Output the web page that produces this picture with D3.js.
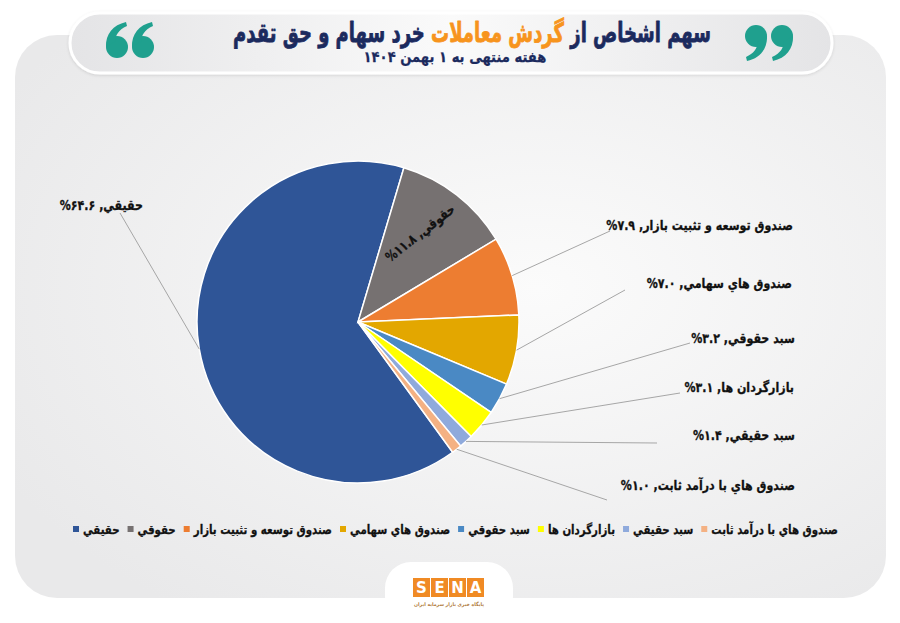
<!DOCTYPE html>
<html>
<head>
<meta charset="utf-8">
<script src="https://cdn.jsdelivr.net/npm/d3@7"></script>
<style>
  body { margin: 0; background: #ffffff; }
  svg text { font-family: "DejaVu Sans", sans-serif; font-weight: bold; }
</style>
</head>
<body>
<div id="chart"></div>
<script>
// chart data
const categories = ["حقيقي", "حقوقي", "صندوق توسعه و تثبيت بازار", "صندوق هاي سهامي",
  "سبد حقوقي", "بازارگردان ها", "سبد حقيقي", "صندوق هاي با درآمد ثابت"];
const shares = [64.6, 11.8, 7.9, 7.0, 3.2, 3.1, 1.4, 1.0];
const colors = ["#2F5597", "#767171", "#ED7D31", "#E3A700", "#4A89C4", "#FFFF00", "#8FAADC", "#F4B183"];
const titleParts = ["سهم اشخاص از ", "گردش معاملات", " خرد سهام و حق تقدم"];
const subtitle = "هفته منتهی به ۱ بهمن ۱۴۰۴";

// label anchors: right edge of text, baseline, and end of leader line
const labelLayout = [
  { x: 143, y: 210, lx: 120, ly: 213 },
  { inside: true, x: 420, y: 233, rot: -38 },
  { x: 793, y: 230, lx: 610, ly: 231 },
  { x: 792, y: 288, lx: 625, ly: 290 },
  { x: 795, y: 343, lx: 690, ly: 343 },
  { x: 794, y: 392, lx: 680, ly: 393 },
  { x: 795, y: 440, lx: 657, ly: 443 },
  { x: 795, y: 490, lx: 607, ly: 500 }
];

const W = 900, H = 623;
const cx = 358, cy = 322, radius = 161;
const startDeg = 144;
const condense = 0.82;

const faDigits = "۰۱۲۳۴۵۶۷۸۹";
const toFa = s => String(s).replace(/[0-9]/g, d => faDigits[+d]);

const svg = d3.select("#chart")
  .append("svg")
  .attr("width", W)
  .attr("height", H);

const defs = svg.append("defs");

const cardGrad = defs.append("radialGradient")
  .attr("id", "cardGrad")
  .attr("cx", "60%").attr("cy", "45%").attr("r", "70%");
cardGrad.append("stop").attr("offset", "0%").attr("stop-color", "#fbfbfb");
cardGrad.append("stop").attr("offset", "100%").attr("stop-color", "#e9e9ea");

const pillGrad = defs.append("linearGradient")
  .attr("id", "pillGrad")
  .attr("x1", "0%").attr("x2", "100%");
pillGrad.append("stop").attr("offset", "0%").attr("stop-color", "#e4e4e6");
pillGrad.append("stop").attr("offset", "50%").attr("stop-color", "#fafafa");
pillGrad.append("stop").attr("offset", "100%").attr("stop-color", "#e4e4e6");

const shadow = defs.append("filter").attr("id", "shadow")
  .attr("x", "-5%").attr("y", "-30%").attr("width", "110%").attr("height", "160%");
shadow.append("feDropShadow")
  .attr("dx", 0).attr("dy", 1).attr("stdDeviation", 1.5)
  .attr("flood-color", "#000").attr("flood-opacity", 0.12);

// background card
svg.append("rect")
  .attr("x", 15).attr("y", 35)
  .attr("width", 871).attr("height", 563)
  .attr("rx", 42)
  .attr("fill", "url(#cardGrad)");

// title pill
svg.append("rect")
  .attr("x", 70).attr("y", 13)
  .attr("width", 762).attr("height", 60)
  .attr("rx", 30)
  .attr("fill", "url(#pillGrad)")
  .attr("stroke", "#ffffff")
  .attr("stroke-width", 3)
  .attr("filter", "url(#shadow)");

// quote marks
const teal = "#1FA08E";
function quoteMark(g, x, y, flip) {
  const q = g.append("g")
    .attr("transform", `translate(${x},${y})` + (flip ? " rotate(180)" : ""));
  q.append("circle").attr("cx", 0).attr("cy", 0).attr("r", 11).attr("fill", teal);
  q.append("path")
    .attr("d", "M-11,0 C-11.5,-13 -4,-22 9,-25 L10,-21 C1,-17 -2,-11 -1,-6 Z")
    .attr("fill", teal);
}
const quotes = svg.append("g");
quoteMark(quotes, 117, 47, false);
quoteMark(quotes, 143, 47, false);
quoteMark(quotes, 756, 36, true);
quoteMark(quotes, 782, 36, true);

// helpers
function heavy(sel, color, sw) {
  return sel.attr("fill", color).attr("stroke", color).attr("stroke-width", sw).attr("stroke-linejoin", "round");
}
function fitText(sel, cxT, yT, targetW) {
  const w = sel.node().getComputedTextLength();
  sel.attr("transform", `translate(${cxT},${yT}) scale(${targetW / w},1)`);
}
// place text (anchored middle) so its right edge is at xr, condensed by s
function rightAlign(sel, xr, y, s) {
  const w = sel.node().getComputedTextLength() * s;
  sel.attr("transform", `translate(${xr - w / 2},${y}) scale(${s},1)`);
  return w;
}

// title
const title = svg.append("text")
  .attr("direction", "rtl")
  .attr("text-anchor", "middle")
  .attr("font-size", 27);
heavy(title, "#1B2A5E", 0.8);
title.selectAll("tspan")
  .data(titleParts)
  .join("tspan")
  .attr("fill", (d, i) => i === 1 ? "#F7941D" : "#1B2A5E")
  .attr("stroke", (d, i) => i === 1 ? "#F7941D" : "#1B2A5E")
  .text(d => d);
fitText(title, 472, 42, 478);

const sub = svg.append("text")
  .attr("direction", "rtl")
  .attr("text-anchor", "middle")
  .attr("font-size", 15)
  .text(subtitle);
heavy(sub, "#1B2A5E", 0.25);
fitText(sub, 455, 62, 183);

// pie
const pie = d3.pie()
  .sort(null)
  .startAngle(startDeg * Math.PI / 180)
  .endAngle(startDeg * Math.PI / 180 + 2 * Math.PI);
const arcs = pie(shares);
const arc = d3.arc().innerRadius(0).outerRadius(radius);

const pieG = svg.append("g").attr("transform", `translate(${cx},${cy})`);
pieG.selectAll("path")
  .data(arcs)
  .join("path")
  .attr("d", arc)
  .attr("fill", (d, i) => colors[i])
  .attr("stroke", "#ffffff")
  .attr("stroke-width", 1.5);

// labels and leader lines
const labelText = i => `${categories[i]}, ${toFa(shares[i].toFixed(1))}%`;

arcs.forEach((d, i) => {
  const L = labelLayout[i];
  if (L.inside) {
    const t = svg.append("text")
      .attr("direction", "rtl")
      .attr("text-anchor", "middle")
      .attr("font-size", 13.5)
      .attr("dy", "0.35em")
      .text(labelText(i));
    heavy(t, "#111", 0.3);
    const w = t.node().getComputedTextLength();
    t.attr("transform", `translate(${L.x},${L.y}) rotate(${L.rot}) scale(${84 / w},1)`);
    return;
  }
  const a = (d.startAngle + d.endAngle) / 2;
  const px = cx + radius * Math.sin(a), py = cy - radius * Math.cos(a);
  svg.append("line")
    .attr("x1", px).attr("y1", py)
    .attr("x2", L.lx).attr("y2", L.ly)
    .attr("stroke", "#A6A6A6")
    .attr("stroke-width", 1);
  const t = svg.append("text")
    .attr("direction", "rtl")
    .attr("text-anchor", "middle")
    .attr("font-size", 13.5)
    .text(labelText(i));
  heavy(t, "#111", 0.3);
  rightAlign(t, L.x, L.y, condense);
});

// legend, left to right, swatch before each name
const legendY = 529, legendLeft = 73, legendRight = 838;
const legendFont = 13;
const legendTexts = categories.map(c => {
  const t = svg.append("text")
    .attr("direction", "rtl")
    .attr("text-anchor", "middle")
    .attr("font-size", legendFont)
    .text(c);
  heavy(t, "#111", 0.3);
  return t;
});
const natural = legendTexts.map(t => t.node().getComputedTextLength());
const fixedW = categories.length * (6 + 4) + (categories.length - 1) * 8;
const ls = (legendRight - legendLeft - fixedW) / d3.sum(natural);
let lx = legendLeft;
categories.forEach((c, i) => {
  svg.append("rect")
    .attr("x", lx).attr("y", legendY - 3)
    .attr("width", 6).attr("height", 6)
    .attr("fill", colors[i]);
  const w = natural[i] * ls;
  legendTexts[i].attr("transform", `translate(${lx + 10 + w / 2},${legendY + 5}) scale(${ls},1)`);
  lx += 10 + w + 8;
});

// logo tab
svg.append("rect")
  .attr("x", 385).attr("y", 562)
  .attr("width", 128).attr("height", 61)
  .attr("rx", 26)
  .attr("fill", "#ffffff");
svg.append("rect")
  .attr("x", 370).attr("y", 598)
  .attr("width", 160).attr("height", 25)
  .attr("fill", "#ffffff");

const letters = ["S", "E", "N", "A"];
const logo = svg.append("g");
letters.forEach((ch, i) => {
  logo.append("rect")
    .attr("x", 413 + i * 18).attr("y", 578)
    .attr("width", 17).attr("height", 19)
    .attr("fill", "#F08A24");
  logo.append("text")
    .attr("x", 413 + i * 18 + 8.5).attr("y", 593)
    .attr("text-anchor", "middle")
    .attr("font-size", 15)
    .attr("fill", "#ffffff")
    .text(ch);
});
const tag = svg.append("text")
  .attr("direction", "rtl")
  .attr("text-anchor", "middle")
  .attr("font-size", 5)
  .attr("font-weight", "normal")
  .attr("fill", "#B07A3A")
  .text("پایگاه خبری بازار سرمایه ایران");
fitText(tag, 449, 606, 70);
</script>
</body>
</html>
